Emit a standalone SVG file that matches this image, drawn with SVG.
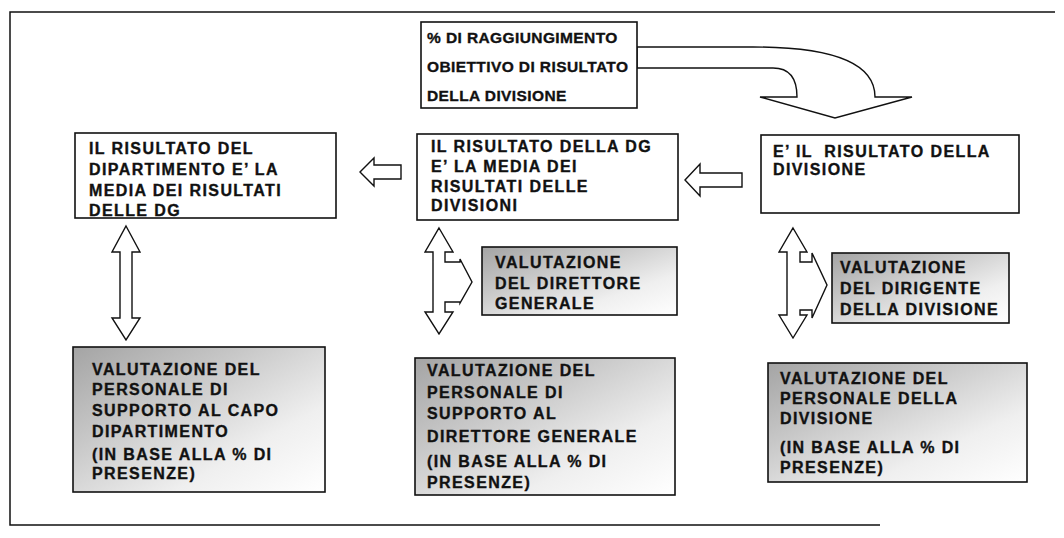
<svg xmlns="http://www.w3.org/2000/svg" width="1064" height="538" viewBox="0 0 1064 538">
<style>
.box{fill:#fff;stroke:#111;stroke-width:1.6}
.gbox{fill:url(#gr);stroke:#111;stroke-width:1.6}
.arr{fill:#fff;stroke:#111;stroke-width:1.4;stroke-linejoin:miter}
.frame{fill:none;stroke:#111;stroke-width:1.5}
text{font-family:"Liberation Sans",Arial,sans-serif;font-weight:bold;font-size:16px;fill:#111;stroke:#111;stroke-width:0.35;letter-spacing:1.4px}
.t1{font-size:15.5px;letter-spacing:0.4px}
</style>
<defs>
<linearGradient id="gr" x1="0" y1="0" x2="1" y2="1">
<stop offset="0" stop-color="#a4a4a4"/>
<stop offset="0.35" stop-color="#c8c8c8"/>
<stop offset="0.7" stop-color="#efefef"/>
<stop offset="1" stop-color="#ffffff"/>
</linearGradient>
</defs>
<rect width="1064" height="538" fill="#fff"/>
<path class="frame" d="M880,525 L10,525 L10,12 L1055,12"/>

<g id="connectors">
<path class="arr" d="M637,47 L753,47 Q875,47 875,97 L912,97 L835,118 L760,97 L797,97 Q797,68 773,68 L637,68 Z"/>
<path class="arr" d="M360,172 L374,158 L374,165 L401,165 L401,179 L374,179 L374,186 Z"/>
<path class="arr" d="M685,180 L700,164 L700,173 L742,173 L742,187 L700,187 L700,196 Z"/>
<path class="arr" d="M126,226 L140,252 L132,252 L132,318 L140,318 L126,340 L112,318 L120,318 L120,252 L112,252 Z"/>
<path class="arr" d="M439,228 L453,252 L445,252 L445,262 L460,262 L460,259 L472,282 L460,303 L460,302 L445,302 L445,312 L453,312 L439,334 L425,312 L433,312 L433,252 L425,252 Z"/>
<path class="arr" d="M793,228 L807,252 L800,252 L800,262 L812,262 L812,253 L827,285 L812,318 L812,310 L800,310 L800,315 L807,315 L793,338 L779,315 L787,315 L787,252 L779,252 Z"/>
</g>

<g id="n-top">
<rect class="box" x="421" y="22" width="216" height="86"/>
<text class="t1" x="427" y="43">% DI RAGGIUNGIMENTO</text>
<text class="t1" x="427" y="72">OBIETTIVO DI RISULTATO</text>
<text class="t1" x="427" y="101">DELLA DIVISIONE</text>
</g>

<g id="n-dip">
<rect class="box" x="75" y="133" width="261" height="85"/>
<text x="89" y="154">IL RISULTATO DEL</text>
<text x="89" y="175">DIPARTIMENTO E’ LA</text>
<text x="89" y="196">MEDIA DEI RISULTATI</text>
<text x="89" y="216">DELLE DG</text>
</g>

<g id="n-dg">
<rect class="box" x="417" y="134" width="261" height="86"/>
<text x="431" y="152">IL RISULTATO DELLA DG</text>
<text x="431" y="172">E’ LA MEDIA DEI</text>
<text x="431" y="192">RISULTATI DELLE</text>
<text x="431" y="211">DIVISIONI</text>
</g>

<g id="n-div">
<rect class="box" x="761" y="135" width="258" height="78"/>
<text x="773" y="157" xml:space="preserve">E’ IL  RISULTATO DELLA</text>
<text x="773" y="175">DIVISIONE</text>
</g>

<g id="n-vdg">
<rect class="gbox" x="482" y="247" width="195" height="68"/>
<text x="495" y="268">VALUTAZIONE</text>
<text x="495" y="289">DEL DIRETTORE</text>
<text x="495" y="309">GENERALE</text>
</g>

<g id="n-vdir">
<rect class="gbox" x="832" y="253" width="177" height="70"/>
<text x="840" y="273">VALUTAZIONE</text>
<text x="840" y="294">DEL DIRIGENTE</text>
<text x="840" y="315">DELLA DIVISIONE</text>
</g>

<g id="n-pcapo">
<rect class="gbox" x="73" y="347" width="252" height="145"/>
<text x="92" y="375">VALUTAZIONE DEL</text>
<text x="92" y="395">PERSONALE DI</text>
<text x="92" y="416">SUPPORTO AL CAPO</text>
<text x="92" y="437">DIPARTIMENTO</text>
<text x="92" y="460">(IN BASE ALLA % DI</text>
<text x="92" y="479">PRESENZE)</text>
</g>

<g id="n-pdg">
<rect class="gbox" x="415" y="358" width="260" height="137"/>
<text x="427" y="376">VALUTAZIONE DEL</text>
<text x="427" y="398">PERSONALE DI</text>
<text x="427" y="419">SUPPORTO AL</text>
<text x="427" y="442">DIRETTORE GENERALE</text>
<text x="427" y="467">(IN BASE ALLA % DI</text>
<text x="427" y="488">PRESENZE)</text>
</g>

<g id="n-pdiv">
<rect class="gbox" x="768" y="363" width="259" height="119"/>
<text x="780" y="384">VALUTAZIONE DEL</text>
<text x="780" y="404">PERSONALE DELLA</text>
<text x="780" y="424">DIVISIONE</text>
<text x="780" y="453">(IN BASE ALLA % DI</text>
<text x="780" y="473">PRESENZE)</text>
</g>
</svg>
